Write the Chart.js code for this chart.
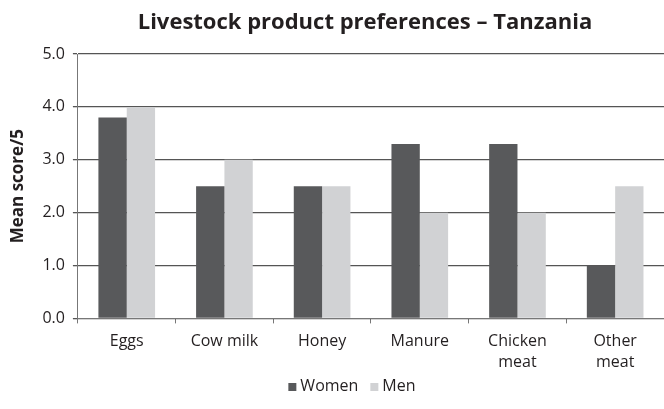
<!DOCTYPE html>
<html>
<head>
<meta charset="utf-8">
<title>Livestock product preferences – Tanzania</title>
<script src="https://cdn.jsdelivr.net/npm/chart.js@4/dist/chart.umd.min.js"></script>
<style>
  html, body { margin: 0; padding: 0; background: #fff; }
  #wrap { width: 664px; height: 409px; }
</style>
</head>
<body>
<div id="wrap"><canvas id="prefChart" width="664" height="409"></canvas></div>
<script>
// Mean preference scores (out of 5) by product
const products = ['Eggs', 'Cow milk', 'Honey', 'Manure', ['Chicken', 'meat'], ['Other', 'meat']];
const women = [3.8, 2.5, 2.5, 3.3, 3.3, 1.0];
const men = [4.0, 3.0, 2.5, 2.0, 2.0, 2.5];

const chartTitle = 'Livestock product preferences – Tanzania';

const FONT = '"Open Sans", "Liberation Sans", sans-serif';
const INK = '#231f20';
const DARK = '#58595b';
const LIGHT = '#d1d2d4';

// title centred over the plot area rather than the whole canvas
const plotTitle = {
    id: 'plotTitle',
    afterDraw(chart) {
        const { ctx, chartArea } = chart;
        ctx.save();
        ctx.font = 'bold 22px ' + FONT;
        ctx.fillStyle = INK;
        ctx.textAlign = 'center';
        ctx.textBaseline = 'middle';
        ctx.fillText(chartTitle, (chartArea.left + chartArea.right) / 2 - 6, 23);
        ctx.restore();
    }
};

// compact legend: small square, tight gap, drawn under the axis labels
const plotLegend = {
    id: 'plotLegend',
    afterDraw(chart) {
        const { ctx, chartArea } = chart;
        const sets = chart.data.datasets;
        const box = 8, gap = 4, spacing = 12;
        ctx.save();
        ctx.font = '16px ' + FONT;
        ctx.textBaseline = 'middle';
        const widths = sets.map(ds => box + gap + ctx.measureText(ds.label).width);
        const total = widths.reduce((a, b) => a + b, 0) + spacing * (sets.length - 1);
        let x = (chartArea.left + chartArea.right) / 2 - 19 - total / 2;
        const y = 386;
        sets.forEach((ds, i) => {
            ctx.fillStyle = ds.backgroundColor;
            ctx.fillRect(x, y - box / 2 + 1, box, box);
            ctx.fillStyle = INK;
            ctx.fillText(ds.label, x + box + gap, y);
            x += widths[i] + spacing;
        });
        ctx.restore();
    }
};

new Chart(document.getElementById('prefChart'), {
    type: 'bar',
    data: {
        labels: products,
        datasets: [
            { label: 'Women', data: women, backgroundColor: DARK, borderWidth: 0 },
            { label: 'Men', data: men, backgroundColor: LIGHT, borderWidth: 0 }
        ]
    },
    plugins: [plotTitle, plotLegend],
    options: {
        responsive: false,
        animation: false,
        devicePixelRatio: 1,
        layout: { padding: { left: 4, right: 0, top: 54, bottom: 28 } },
        datasets: {
            bar: { categoryPercentage: 0.58, barPercentage: 1.0 }
        },
        plugins: {
            title: { display: false },
            legend: { display: false },
            tooltip: { enabled: false }
        },
        scales: {
            x: {
                grid: {
                    display: true,
                    drawOnChartArea: false,
                    tickLength: 5,
                    color: '#777'
                },
                border: { color: '#777', width: 1 },
                ticks: {
                    color: INK,
                    padding: 8,
                    maxRotation: 0,
                    font: { family: FONT, size: 16, lineHeight: 1.3 }
                }
            },
            y: {
                min: 0,
                max: 5,
                grid: {
                    color: '#555',
                    lineWidth: 1.3,
                    tickLength: 5
                },
                border: { color: '#777', width: 1 },
                ticks: {
                    stepSize: 1,
                    color: INK,
                    padding: 8,
                    font: { family: FONT, size: 16 },
                    callback: v => v.toFixed(1)
                },
                title: {
                    display: true,
                    text: 'Mean score/5',
                    color: INK,
                    font: { family: FONT, size: 17, weight: 'bold' },
                    padding: { top: 4, bottom: 6 }
                }
            }
        }
    }
});
</script>
</body>
</html>
